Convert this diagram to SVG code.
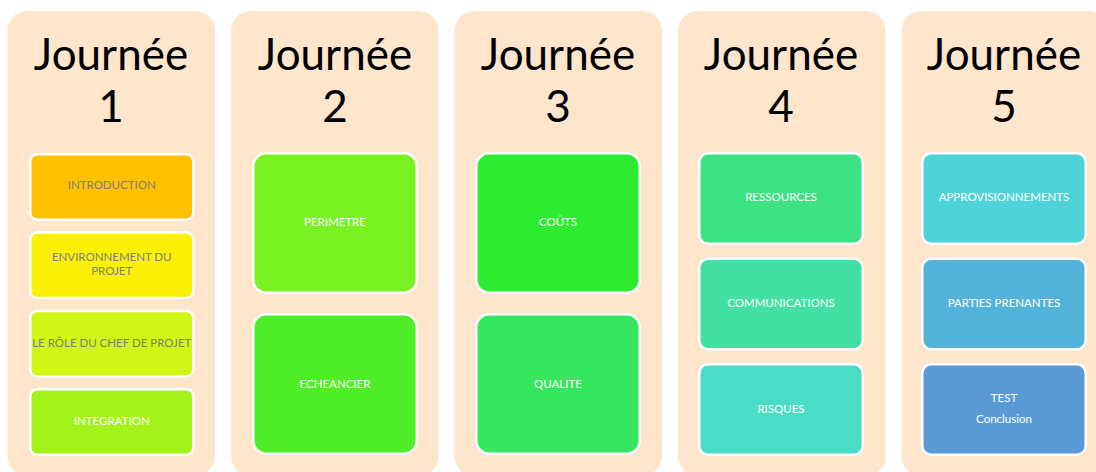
<svg xmlns="http://www.w3.org/2000/svg" width="1096" height="472" viewBox="0 0 1096 472">
<style>
.panel{fill:#FDE6CC;}
.box{stroke:#FFFFFF;stroke-width:2.5;}
.title{font-family:Lato,"Liberation Sans",sans-serif;font-size:44px;fill:#000000;text-anchor:middle;}
.lbl{font-family:Lato,"Liberation Sans",sans-serif;font-size:11.5px;fill:#FFFFFF;text-anchor:middle;}
.gray{fill:#7F7F7F;}
</style>
<rect width="1096" height="472" fill="#FFFFFF"/>
<g id="day1">
<rect class="panel" x="7.5" y="11" width="207.5" height="465" rx="20"/>
<text class="title" x="111" y="70">Journée</text>
<text class="title" x="111" y="122">1</text>
<g id="introduction"><rect class="box" x="30.25" y="154.25" width="163" height="65.5" rx="7" fill="#FFC000"/><text class="lbl gray" x="111.75" y="189">INTRODUCTION</text></g>
<g id="environnement"><rect class="box" x="30.25" y="232.6" width="163" height="65.5" rx="7" fill="#FAF005"/><text class="lbl gray" x="111.75" y="260.5">ENVIRONNEMENT DU</text><text class="lbl gray" x="111.75" y="274.5">PROJET</text></g>
<g id="role"><rect class="box" x="30.25" y="310.9" width="163" height="65.5" rx="7" fill="#D1F514"/><text class="lbl gray" x="111.75" y="346.5">LE RÔLE DU CHEF DE PROJET</text></g>
<g id="integration"><rect class="box" x="30.25" y="389.25" width="163" height="65.5" rx="7" fill="#A3F31A"/><text class="lbl" x="111.75" y="424.5">INTEGRATION</text></g>
</g>
<g id="day2">
<rect class="panel" x="231" y="11" width="207.5" height="465" rx="20"/>
<text class="title" x="335" y="70">Journée</text>
<text class="title" x="335" y="122">2</text>
<g id="perimetre"><rect class="box" x="253.25" y="153.25" width="163.5" height="139.5" rx="13" fill="#79F122"/><text class="lbl" x="335" y="225.5">PERIMETRE</text></g>
<g id="echeancier"><rect class="box" x="253.25" y="314.25" width="163.5" height="139.5" rx="13" fill="#50EE29"/><text class="lbl" x="335" y="388">ECHEANCIER</text></g>
</g>
<g id="day3">
<rect class="panel" x="454.5" y="11" width="207.5" height="465" rx="20"/>
<text class="title" x="558" y="70">Journée</text>
<text class="title" x="558" y="122">3</text>
<g id="couts"><rect class="box" x="476.25" y="153.25" width="163.5" height="139.5" rx="13" fill="#2DEB31"/><text class="lbl" x="558" y="225.5">COÛTS</text></g>
<g id="qualite"><rect class="box" x="476.25" y="314.25" width="163.5" height="139.5" rx="13" fill="#36E65F"/><text class="lbl" x="558" y="388">QUALITE</text></g>
</g>
<g id="day4">
<rect class="panel" x="678" y="11" width="207.5" height="465" rx="20"/>
<text class="title" x="781" y="70">Journée</text>
<text class="title" x="781" y="122">4</text>
<g id="ressources"><rect class="box" x="699.25" y="153.25" width="163.5" height="90.5" rx="9" fill="#3DE383"/><text class="lbl" x="781" y="200.5">RESSOURCES</text></g>
<g id="communications"><rect class="box" x="699.25" y="258.75" width="163.5" height="90.5" rx="9" fill="#43E0A5"/><text class="lbl" x="781" y="306.5">COMMUNICATIONS</text></g>
<g id="risques"><rect class="box" x="699.25" y="364.25" width="163.5" height="90.5" rx="9" fill="#49DDC5"/><text class="lbl" x="781" y="412.5">RISQUES</text></g>
</g>
<g id="day5">
<rect class="panel" x="901.5" y="11" width="207.5" height="465" rx="20"/>
<text class="title" x="1004" y="70">Journée</text>
<text class="title" x="1004" y="122">5</text>
<g id="approvisionnements"><rect class="box" x="922.25" y="153.25" width="163.5" height="90.5" rx="9" fill="#4ED3D9"/><text class="lbl" x="1004" y="200.5">APPROVISIONNEMENTS</text></g>
<g id="parties"><rect class="box" x="922.25" y="258.75" width="163.5" height="90.5" rx="9" fill="#54B3D8"/><text class="lbl" x="1004" y="306.5">PARTIES PRENANTES</text></g>
<g id="test"><rect class="box" x="922.25" y="364.25" width="163.5" height="90.5" rx="9" fill="#5B9BD5"/><text class="lbl" x="1004" y="402">TEST</text><text class="lbl" x="1004" y="423">Conclusion</text></g>
</g>
<g id="connectors"/>
</svg>
